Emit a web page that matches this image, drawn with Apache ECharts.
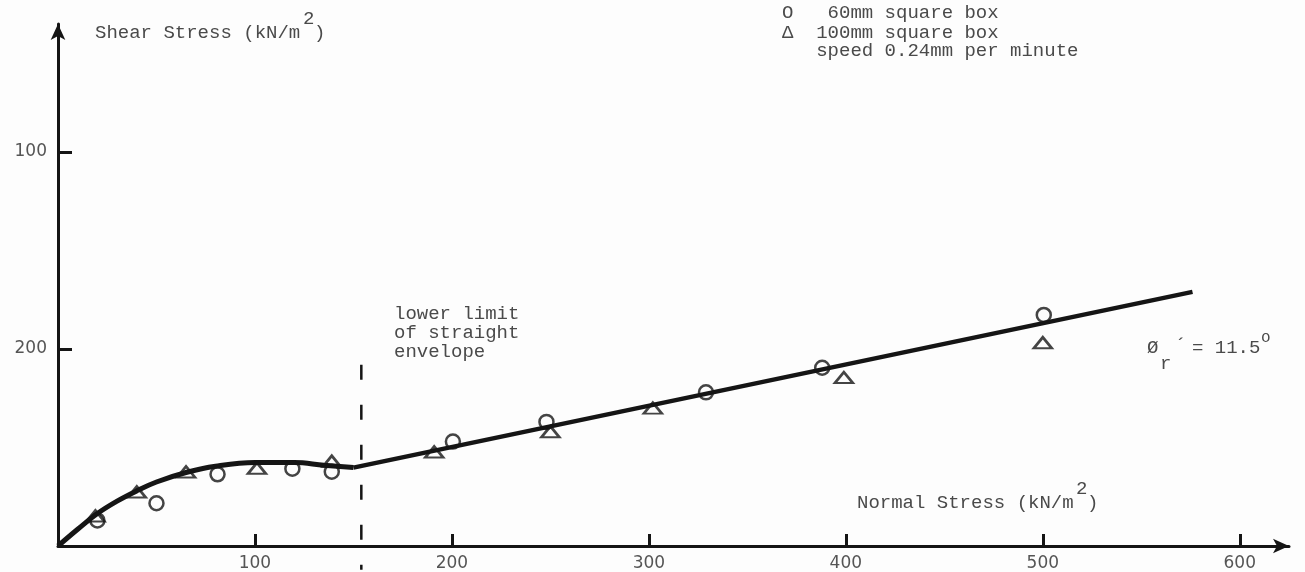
<!DOCTYPE html>
<html>
<head>
<meta charset="utf-8">
<title>Shear stress against normal stress</title>
<script src="https://cdn.jsdelivr.net/npm/echarts@6/dist/echarts.min.js"></script>
<style>
	html, body { margin: 0; padding: 0; background: #fdfdfd; }
	#chart { width: 1305px; height: 572px; }
</style>
</head>
<body>
<div id="chart"></div>
<script>
// values, kN/m2 (normal stress, shear stress)
var box60 = [[20, 13], [50, 21.7], [81, 36.4], [119, 39.2], [139, 37.7], [200.5, 53], [248, 63], [329, 78], [388, 90.5], [500.5, 117.3]];
var box100 = [[19, 15.2], [40, 27.4], [65, 37.6], [101, 39.5], [139, 43], [191, 47.7], [250, 58], [302, 70], [399, 85.5], [500, 103.2]];
var envelopeCurve = [[0, 0], [10, 8.5], [20, 16.5], [30, 22.8], [40, 28], [50, 32.5], [65, 37.3], [80, 40.5], [100, 42.4], [120, 42.4], [135, 41], [150, 39.8]];
var envelopeStraight = [[150, 39.8], [576, 129]];
var lowerLimit = [[154, 92], [154, -12]];

var xTicks = [100, 200, 300, 400, 500, 600];
var yTicks = [100, 200];
var yTickText = ['200', '100'];   // as printed on the figure

var ink = '#151515';
var textGrey = '#4a4a4a';
var mono = '19px "Liberation Mono"';

function label(text, x, y, font) {
	return {
		type: 'text', x: x, y: y, silent: true,
		style: { text: text, font: font || mono, fill: textGrey, textVerticalAlign: 'middle' }
	};
}

function cal_option() {
	var option = {
		backgroundColor: '#fdfdfd',
		animation: false,
		grid: { left: 58, right: 16, top: 24, bottom: 26, containLabel: false, outerBoundsMode: 'none' },
		xAxis: {
			type: 'value', min: 0, max: 625, interval: 100,
			splitLine: { show: false },
			axisLine: { onZero: false, lineStyle: { color: ink, width: 3 }, symbol: ['none', 'arrow'], symbolSize: [11, 16] },
			axisTick: { inside: true, length: 12, customValues: xTicks, lineStyle: { color: ink, width: 3 } },
			axisLabel: { customValues: xTicks, margin: 9, color: '#555', fontFamily: 'DejaVu Sans', fontSize: 17 }
		},
		yAxis: {
			type: 'value', min: 0, max: 265, interval: 100,
			splitLine: { show: false },
			axisLine: { onZero: false, lineStyle: { color: ink, width: 3 }, symbol: ['none', 'arrow'], symbolSize: [11, 16] },
			axisTick: { inside: true, length: 14, customValues: yTicks, lineStyle: { color: ink, width: 3 } },
			axisLabel: {
				customValues: yTicks, margin: 11, color: '#555', fontFamily: 'DejaVu Sans', fontSize: 17,
				formatter: function (v) {
					var i = yTicks.indexOf(v);
					return i < 0 ? '' : yTickText[i];
				}
			}
		},
		series: [
			{
				name: 'envelope', type: 'line', data: envelopeCurve, smooth: 0.4, symbol: 'none',
				lineStyle: { color: ink, width: 5 }, z: 2
			},
			{
				name: 'straight envelope', type: 'line', data: envelopeStraight, symbol: 'none',
				lineStyle: { color: ink, width: 4.5 }, z: 2
			},
			{
				name: 'lower limit of straight envelope', type: 'line', data: lowerLimit, symbol: 'none', clip: false,
				lineStyle: { color: ink, width: 2.5, type: [15, 25] }, z: 1
			},
			{
				name: '60mm square box', type: 'scatter', data: box60, symbol: 'circle', symbolSize: 14,
				itemStyle: { color: 'rgba(0,0,0,0)', borderColor: ink, borderWidth: 2.5 }, z: 3
			},
			{
				name: '100mm square box', type: 'scatter', data: box100, symbol: 'triangle', symbolSize: [18, 11],
				itemStyle: { color: 'rgba(0,0,0,0)', borderColor: ink, borderWidth: 2.5 }, z: 3
			}
		],
		graphic: [
			label('Shear Stress (kN/m', 95, 33),
			label('2', 303, 19),
			label(')', 314, 33),
			label('Normal Stress (kN/m', 857, 503),
			label('2', 1076, 489),
			label(')', 1087, 503),
			label('O   60mm square box', 782, 13),
			label('\u0394  100mm square box', 782, 33),
			label('   speed 0.24mm per minute', 782, 51),
			label('lower limit', 394, 314),
			label('of straight', 394, 333),
			label('envelope', 394, 352),
			label('\u00d8', 1147, 348),
			label('r', 1160, 364),
			label('\u00b4', 1175, 346),
			label('= 11.5', 1192, 348),
			label('o', 1261, 338, '16px "Liberation Mono"')
		]
	};
	return option;
}

function draw_chart() {
	var myChart = echarts.init(document.getElementById('chart'));
	myChart.setOption(cal_option());
	window.onresize = function () {
		myChart.resize();
	};
}

draw_chart();
</script>
</body>
</html>
